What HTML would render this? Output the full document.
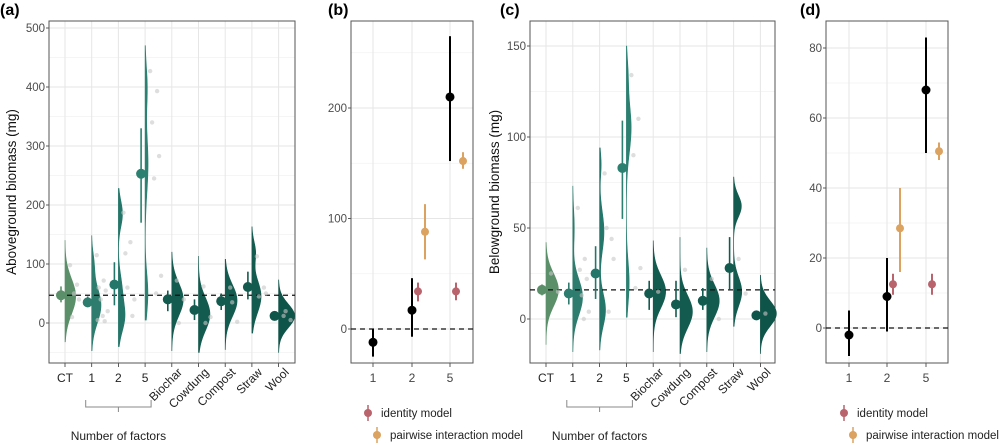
<!DOCTYPE html>
<html><head><meta charset="utf-8"><style>
body{margin:0;background:#fff}
svg{display:block;font-family:"Liberation Sans",Arial,sans-serif}
</style></head><body>
<svg id="chart" width="1000" height="447" viewBox="0 0 1000 447"></svg>
<script>
// ---------- DATA ----------
const catLabels = ["CT","1","2","5","Biochar","Cowdung","Compost","Straw","Wool"];
// Panel a (aboveground)
const aMean = [47,35,65,253,40,22,37,61,12];
const aLo   = [35,27,30,170,20,5,22,40,8];
const aHi   = [62,45,103,330,55,40,50,87,16];
const aVioMin = [-32,-47,-40,5,-47,-50,-45,-17,-50];
const aVioMax = [140,148,228,470,120,113,108,163,73];
const aComps = [
 [[45,30,1]],
 [[30,30,1],[100,20,0.15]],
 [[10,25,0.6],[60,25,0.3],[185,22,0.35]],
 [[50,35,0.4],[270,50,0.6],[400,35,0.3]],
 [[40,28,1]],
 [[15,28,1]],
 [[38,27,1]],
 [[45,28,1],[120,18,0.25]],
 [[12,20,1]]
];
const aPts = [[98,65,10,40,50],[115,72,60,55,40,20,12,5,3],[187,137,118,12,60,40],[427,393,340,283,245,80,50],[72,40,0],[62,10,0],[60,2,35],[113,60,45,50],[12,5,20]];
const aRef = 47;
// Panel c (belowground)
const cMean = [16,14,25,83,14,8,10,28,2];
const cLo   = [13,8,11,55,5,1,5,16,0];
const cHi   = [19,20,40,109,21,21,17,45,4];
const cVioMin = [-14,-18,-17,1,-18,-19,-18,-4,-19];
const cVioMax = [42,73,94,150,43,45,39,78,24];
const cComps = [
 [[16,9,1]],
 [[12,10,1],[50,10,0.15]],
 [[5,9,0.5],[48,11,0.45],[85,7,0.1]],
 [[20,12,0.4],[105,14,0.8],[135,9,0.15]],
 [[15,9,1]],
 [[4,9,1]],
 [[10,9,1]],
 [[15,8,0.7],[62,6,0.5]],
 [[3,7,1]]
];
const cPts = [[25,15],[61,33,27,22,13,4,0],[80,44,50,33,4],[134,110,90,28,17],[15],[27],[22,0],[33,14],[3]];
const cRef = 16;
// Panels b, d
const effCats = ["1","2","5"];
const bObs = [-12,17,210], bObsLo=[-25,-7,152], bObsHi=[0,46,265];
const bId = [null,34,34], bIdLo=[null,25,26], bIdHi=[null,42,42];
const bPw = [null,88,152], bPwLo=[null,63,145], bPwHi=[null,113,160];
const dObs = [-2,9,68], dObsLo=[-8,-1,50], dObsHi=[5,20,83];
const dId = [null,12.5,12.5], dIdLo=[null,9.5,9.5], dIdHi=[null,15.5,15.5];
const dPw = [null,28.5,50.5], dPwLo=[null,16,48], dPwHi=[null,40,53];

// ---------- helpers ----------
const svg = document.getElementById('chart');
const NS = "http://www.w3.org/2000/svg";
function mk(tag, attrs, parent){
  const e = document.createElementNS(NS, tag);
  for (const k in attrs) e.setAttribute(k, attrs[k]);
  (parent||svg).appendChild(e);
  return e;
}
function txt(s, x, y, size, fill, anchor, extra){
  const t = mk('text', Object.assign({x:x,y:y,'font-size':size,fill:fill,'text-anchor':anchor||'middle'}, extra||{}));
  t.textContent = s;
  return t;
}
const vioColors = ["#5b8f69","#2d7c6d","#24766a","#2b8070","#145b4f","#145b4f","#145b4f","#145b4f","#0f5449"];

function panelFrame(box, yfun, major, minor, xs, name){
  const g = mk('g', {});
  
  
  minor.forEach(v=>{ const y=yfun(v); if(y>box.y0&&y<box.y1){ const l=mk('line',{x1:box.x0,x2:box.x1,y1:y,y2:y,stroke:'#f2f2f2','stroke-width':0.8},g);
      }});
  major.forEach(v=>{ const y=yfun(v); const l=mk('line',{x1:box.x0,x2:box.x1,y1:y,y2:y,stroke:'#e6e6e6','stroke-width':1},g);
     
    const t=txt(String(v), box.x0-4, y+4, 11.5, '#4d4d4d', 'end');
     
    mk('line',{x1:box.x0-3,x2:box.x0,y1:y,y2:y,stroke:'#333','stroke-width':0.8},g);});
  xs.forEach(x=>{ const l=mk('line',{x1:x,x2:x,y1:box.y0,y2:box.y1,stroke:'#e6e6e6','stroke-width':1},g);
     
    mk('line',{x1:x,x2:x,y1:box.y1,y2:box.y1+4,stroke:'#333','stroke-width':0.8},g);});
  const r = mk('rect',{x:box.x0,y:box.y0,width:box.x1-box.x0,height:box.y1-box.y0,fill:'none',stroke:'#555','stroke-width':1});
  
  
}
function dashed(box, y, name){
  const l = mk('line',{x1:box.x0,x2:box.x1,y1:y,y2:y,stroke:'#111','stroke-width':1.3,'stroke-dasharray':'5,4'});
  
  
}
function density(comps, v){
  let tot=0, s=0;
  comps.forEach(c=>{tot+=c[2];});
  comps.forEach(c=>{ s += (c[2]/tot) * Math.exp(-0.5*((v-c[0])/c[1])**2)/(c[1]*Math.sqrt(2*Math.PI)); });
  return s;
}
function violinPanel(box, yfun, xs, mean, lo, hi, vmin, vmax, comps, pts, ref, name, maxW){
  const dens = [];
  let globalMax = 0;
  xs.forEach((x,i)=>{
    const arr=[]; const N=80;
    for(let k=0;k<=N;k++){ const v=vmin[i]+(vmax[i]-vmin[i])*k/N; const d=density(comps[i],v)/Math.abs(yfun(1)-yfun(0)); arr.push([v,d]); if(d>globalMax) globalMax=d; }
    dens.push(arr);
  });
  xs.forEach((x,i)=>{
    let p = 'M'+x+','+yfun(vmin[i]);
    dens[i].forEach(([v,d])=>{ p += ' L'+(x+d/globalMax*maxW).toFixed(2)+','+yfun(v).toFixed(2); });
    p += ' L'+x+','+yfun(vmax[i])+' Z';
    const path = mk('path',{d:p,fill:vioColors[i],stroke:vioColors[i],'stroke-width':0.6});
    
    
  });
  dashed(box, yfun(ref), name+'-reference-line');
  xs.forEach((x,i)=>{
    pts[i].forEach((v,j)=>{
      const c = mk('circle',{cx:x+5+((j*7)%12),cy:yfun(v),r:2.2,fill:'#c8c8c8','fill-opacity':0.6});
      
      
    });
    const eb = mk('line',{x1:x-4,x2:x-4,y1:yfun(lo[i]),y2:yfun(hi[i]),stroke:vioColors[i],'stroke-width':1.6});
    
    
    const dot = mk('circle',{cx:x-4,cy:yfun(mean[i]),r:5,fill:vioColors[i]});
    
    
  });
  xs.forEach((x,i)=>{
    let t;
    if(i<4){ t = txt(catLabels[i], x, box.y1+19, 12, '#222', 'middle'); }
    else { t = txt(catLabels[i], x+11, box.y1+10, 12, '#222', 'end', {transform:'rotate(-45 '+(x+11)+' '+(box.y1+10)+')'}); }
    
    
  });
  const bx0 = xs[1]-6, bx1 = xs[3]+6, by = box.y1+44, mid=(bx0+bx1)/2;
  const br = mk('path',{d:'M'+bx0+','+(by-7)+' L'+bx0+','+by+' L'+bx1+','+by+' L'+bx1+','+(by-7)+' M'+mid+','+by+' L'+mid+','+(by+5),fill:'none',stroke:'#888','stroke-width':1});
  
  
  const nt = txt('Number of factors', mid, box.y1+77, 12, '#222', 'middle');
  
  
}
function pointRange(x, v, l, h, yfun, color, r, name){
  const eb = mk('line',{x1:x,x2:x,y1:yfun(l),y2:yfun(h),stroke:color,'stroke-width':2});
  
  
  const c = mk('circle',{cx:x,cy:yfun(v),r:r,fill:color});
  
  
}
function effectPanel(box, yfun, xs, obs, oL, oH, idv, iL, iH, pw, pL, pH, name){
  dashed(box, yfun(0), name+'-zero-line');
  xs.forEach((x,i)=>{
    pointRange(x, obs[i], oL[i], oH[i], yfun, '#000', 4.5, 'observed-'+effCats[i]);
    if(idv[i]!==null) pointRange(x+6, idv[i], iL[i], iH[i], yfun, '#b9636d', 4, 'identity-'+effCats[i]);
    if(pw[i]!==null) pointRange(x+13, pw[i], pL[i], pH[i], yfun, '#dba260', 4, 'pairwise-'+effCats[i]);
    const t = txt(effCats[i], x, box.y1+19, 12, '#444', 'middle');
    
    
  });
  const lx = xs[0]-5;
  const l1 = mk('g',{});
  
  
  mk('line',{x1:lx,x2:lx,y1:405,y2:421,stroke:'#b9636d','stroke-width':1.5},l1);
  mk('circle',{cx:lx,cy:413,r:4,fill:'#b9636d'},l1);
  const t1 = txt('identity model', lx+13, 417, 11.5, '#222', 'start');
  l1.appendChild(t1);
  const l2 = mk('g',{});
  
  
  mk('line',{x1:lx+9,x2:lx+9,y1:427,y2:443,stroke:'#dba260','stroke-width':1.5},l2);
  mk('circle',{cx:lx+9,cy:435,r:4,fill:'#dba260'},l2);
  const t2 = txt('pairwise interaction model', lx+22, 439, 11.5, '#222', 'start');
  l2.appendChild(t2);
}

// ---------- Panel A ----------
const boxA = {x0:49,x1:295,y0:21,y1:363};
const yA = v => 323 - v*0.59;
const xsA = catLabels.map((c,i)=>65 + i*26.7);
panelFrame(boxA, yA, [0,100,200,300,400,500], [-50,50,150,250,350,450], xsA, 'panel-a');
violinPanel(boxA, yA, xsA, aMean, aLo, aHi, aVioMin, aVioMax, aComps, aPts, aRef, 'panel-a', 16);
let ta = txt('Aboveground biomass (mg)', 16, 192, 13.5, '#111', 'middle', {transform:'rotate(-90 16 192)'});



// ---------- Panel B ----------
const boxB = {x0:351,x1:473,y0:21,y1:363};
const yB = v => 329 - v*1.105;
const xsB = [373,412,450];
panelFrame(boxB, yB, [0,100,200], [50,150,250,-50], xsB, 'panel-b');
effectPanel(boxB, yB, xsB, bObs,bObsLo,bObsHi,bId,bIdLo,bIdHi,bPw,bPwLo,bPwHi,'panel-b');

// ---------- Panel C ----------
const boxC = {x0:530,x1:775,y0:21,y1:363};
const yC = v => 319 - v*1.82;
const xsC = catLabels.map((c,i)=>546 + i*26.8);
panelFrame(boxC, yC, [0,50,100,150], [-25,25,75,125], xsC, 'panel-c');
violinPanel(boxC, yC, xsC, cMean, cLo, cHi, cVioMin, cVioMax, cComps, cPts, cRef, 'panel-c', 16);
let tc = txt('Belowground biomass (mg)', 499, 192, 13.5, '#111', 'middle', {transform:'rotate(-90 499 192)'});



// ---------- Panel D ----------
const boxD = {x0:826,x1:948,y0:21,y1:363};
const yD = v => 328 - v*3.5;
const xsD = [849,887,926];
panelFrame(boxD, yD, [0,20,40,60,80], [-10,10,30,50,70], xsD, 'panel-d');
effectPanel(boxD, yD, xsD, dObs,dObsLo,dObsHi,dId,dIdLo,dIdHi,dPw,dPwLo,dPwHi,'panel-d');

[['(a)',0],['(b)',328],['(c)',500],['(d)',800]].forEach(([s,x])=>{
  const t = txt(s, x, 15, 16, '#000', 'start', {'font-weight':'bold'});
  
  
});
</script>
</body></html>
